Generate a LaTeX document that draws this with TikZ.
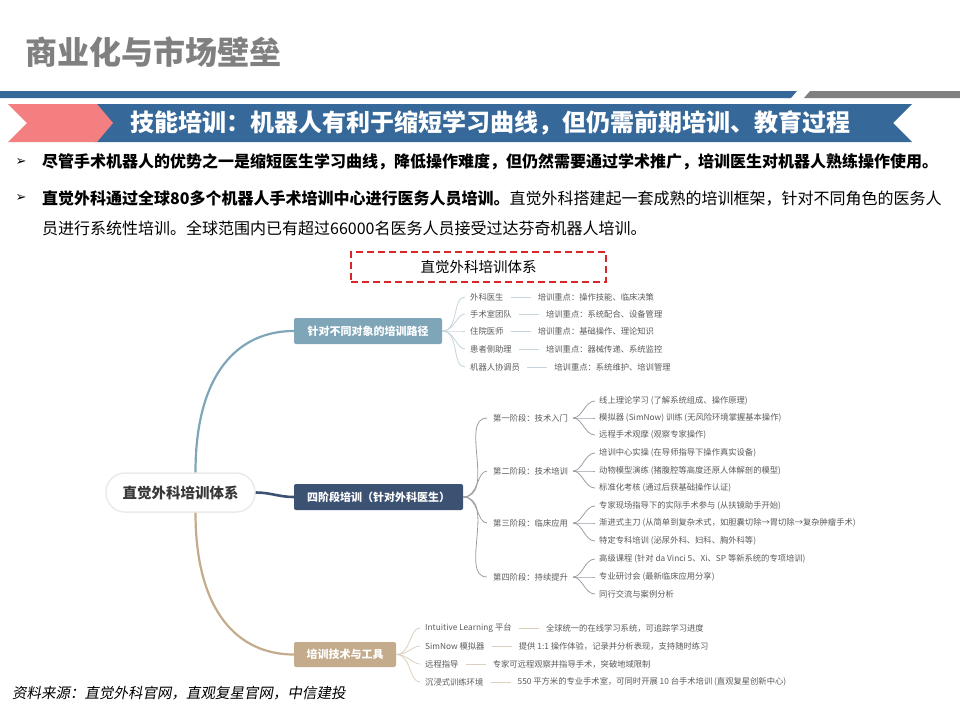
\documentclass[tikz,border=0pt]{standalone}
\usepackage{fontspec}
\setmainfont{Noto Sans CJK SC}
\newfontfamily\symfont{DejaVu Sans}
\newfontfamily\slantfont[FakeSlant=0.18]{Noto Sans CJK SC}
\usetikzlibrary{positioning}

\definecolor{titlegray}{HTML}{808080}
\definecolor{barblue}{HTML}{36699A}
\definecolor{bargray}{HTML}{808080}
\definecolor{chevpink}{HTML}{F47F80}
\definecolor{dashred}{HTML}{D9262B}
\definecolor{pathblue}{HTML}{7EA6B8}
\definecolor{stagenavy}{HTML}{3C5272}
\definecolor{tooltan}{HTML}{C3AB8C}
\definecolor{leafgray}{HTML}{5A5A5A}
\definecolor{routeline}{HTML}{C5D5DC}
\definecolor{stageline}{HTML}{9A9EA4}
\definecolor{toolline}{HTML}{DCCFBE}

\begin{document}
\begin{tikzpicture}[x=1pt, y=-1pt,
leaf/.style={anchor=west, inner sep=1pt, text=leafgray, font=\fontsize{8.3}{10}\selectfont},
branch/.style={rounded corners=2pt, text=white, minimum height=26pt, inner sep=0pt, font=\bfseries\fontsize{11}{13}\selectfont},
fan/.style={draw=#1, line width=0.8pt},
pairline/.style={draw=#1, line width=0.8pt, shorten <=6pt, shorten >=6pt},
marker/.style={inner sep=0, font=\symfont\fontsize{13}{14}\selectfont}]
    \useasboundingbox (0,0) rectangle (960,720);

    % header
    \node[anchor=west, inner sep=0, text=titlegray, font=\bfseries\fontsize{32}{36}\selectfont] (title) at (25,52) {商业化与市场壁垒};
    \fill[barblue] (0,91) -- (797,91) -- (791,98) -- (0,98) -- cycle;
    \fill[bargray] (810,91) -- (960,91) -- (960,98) -- (804,98) -- cycle;
    \fill[barblue] (95,104) -- (912,104) -- (893,123) -- (912,142) -- (95,142) -- cycle;
    \fill[chevpink] (8,104) -- (97,104) -- (113,123) -- (97,142) -- (8,142) -- (27,123) -- cycle;
    \node[inner sep=0, text=white, font=\bfseries\fontsize{24}{28}\selectfont] (banner) at (490,123) {技能培训：机器人有利于缩短学习曲线，但仍需前期培训、教育过程};

    % bullets
    \node[marker] (mk1) at (21,162) {➢};
    \node[anchor=west, inner sep=0, font=\bfseries\fontsize{16}{20}\selectfont] (pt1) at (42,162) {尽管手术机器人的优势之一是缩短医生学习曲线，降低操作难度，但仍然需要通过学术推广，培训医生对机器人熟练操作使用。};
    \node[marker] (mk2) at (21,198) {➢};
    \node[anchor=west, inner sep=0, font=\fontsize{16}{20}\selectfont] (pt2) at (42,198) {\textbf{直觉外科通过全球80多个机器人手术培训中心进行医务人员培训。}直觉外科搭建起一套成熟的培训框架，针对不同角色的医务人};
    \node[anchor=west, inner sep=0, font=\fontsize{16}{20}\selectfont] (pt2b) at (42,228) {员进行系统性培训。全球范围内已有超过66000名医务人员接受过达芬奇机器人培训。};

    \node[draw=dashred, line width=2pt, dash pattern=on 7pt off 4pt, minimum width=255pt, minimum height=30pt, font=\fontsize{14.5}{17}\selectfont] (frame) at (478.5,267) {直觉外科培训体系};

    % mind map
    \node[draw=black!8, fill=white, line width=1.5pt, rounded corners=19pt, minimum width=149pt, minimum height=39pt, text=black!78, font=\bfseries\fontsize{14.5}{17}\selectfont] (root) at (180.5,492.5) {直觉外科培训体系};
    \node[branch, fill=pathblue, minimum width=148pt] (route) at (368,331) {针对不同对象的培训路径};
    \node[branch, fill=stagenavy, minimum width=169pt] (stages) at (378.5,497) {四阶段培训（针对外科医生）};
    \node[branch, fill=tooltan, minimum width=102pt, minimum height=25pt] (tools) at (345,654.5) {培训技术与工具};

    \draw[pathblue, line width=2.2pt] ([xshift=15pt]root.north) .. controls +(0,-100) and +(-55,0) .. (route.west);
    \draw[stagenavy, line width=2.6pt] (root.east) to[out=0, in=180] (stages.west);
    \draw[tooltan, line width=2.2pt] ([xshift=15pt]root.south) .. controls +(0,100) and +(-55,0) .. (tools.west);

    % targets
    \node[leaf] (r1) at (469,297) {外科医生};
    \node[leaf, right=32pt of r1] (r1x) {培训重点：操作技能、临床决策};
    \node[leaf] (r2) at (469,314) {手术室团队};
    \node[leaf, right=32pt of r2] (r2x) {培训重点：系统配合、设备管理};
    \node[leaf] (r3) at (469,331) {住院医师};
    \node[leaf, right=32pt of r3] (r3x) {培训重点：基础操作、理论知识};
    \node[leaf] (r4) at (469,349) {患者侧助理};
    \node[leaf, right=32pt of r4] (r4x) {培训重点：器械传递、系统监控};
    \node[leaf] (r5) at (469,367) {机器人协调员};
    \node[leaf, right=32pt of r5] (r5x) {培训重点：系统维护、培训管理};
    \path[fan=routeline, shorten >=4pt]
        (route.east) edge[out=0, in=180] (r1)
                     edge[out=0, in=180] (r2)
                     edge[out=0, in=180] (r3)
                     edge[out=0, in=180] (r4)
                     edge[out=0, in=180] (r5);
    \path[pairline=routeline]
        (r1) edge (r1x) (r2) edge (r2x) (r3) edge (r3x) (r4) edge (r4x) (r5) edge (r5x);

    % four stages
    \node[leaf] (s1) at (492,418) {第一阶段：技术入门};
    \node[leaf] (s2) at (492,471) {第二阶段：技术培训};
    \node[leaf] (s3) at (492,523) {第三阶段：临床应用};
    \node[leaf] (s4) at (492,577) {第四阶段：持续提升};
    \path[fan=stageline, shorten >=5pt]
        (stages.east) edge[out=0, in=180] (s1)
                      edge[out=0, in=180] (s2)
                      edge[out=0, in=180] (s3)
                      edge[out=0, in=180] (s4);

    \node[leaf] (s1a) at (598,401) {线上理论学习 (了解系统组成、操作原理)};
    \node[leaf] (s1b) at (598,418) {模拟器 (SimNow) 训练 (无风险环境掌握基本操作)};
    \node[leaf] (s1c) at (598,435) {远程手术观摩 (观察专家操作)};
    \node[leaf] (s2a) at (598,453) {培训中心实操 (在导师指导下操作真实设备)};
    \node[leaf] (s2b) at (598,471) {动物模型演练 (猪腹腔等高度还原人体解剖的模型)};
    \node[leaf] (s2c) at (598,488) {标准化考核 (通过后获基础操作认证)};
    \node[leaf] (s3a) at (598,506) {专家现场指导下的实际手术参与 (从扶镜助手开始)};
    \node[leaf] (s3b) at (598,523) {渐进式主刀 (从简单到复杂术式，如胆囊切除→胃切除→复杂肿瘤手术)};
    \node[leaf] (s3c) at (598,541) {特定专科培训 (泌尿外科、妇科、胸外科等)};
    \node[leaf] (s4a) at (598,559) {高级课程 (针对 da Vinci 5、Xi、SP 等新系统的专项培训)};
    \node[leaf] (s4b) at (598,577) {专业研讨会 (最新临床应用分享)};
    \node[leaf] (s4c) at (598,594) {同行交流与案例分析};
    \path[fan=stageline, shorten <=4pt, shorten >=3pt]
        (s1.east) edge[out=0, in=180] (s1a) edge[out=0, in=180] (s1b) edge[out=0, in=180] (s1c)
        (s2.east) edge[out=0, in=180] (s2a) edge[out=0, in=180] (s2b) edge[out=0, in=180] (s2c)
        (s3.east) edge[out=0, in=180] (s3a) edge[out=0, in=180] (s3b) edge[out=0, in=180] (s3c)
        (s4.east) edge[out=0, in=180] (s4a) edge[out=0, in=180] (s4b) edge[out=0, in=180] (s4c);

    % tools
    \node[leaf] (t1) at (424,628) {Intuitive Learning 平台};
    \node[leaf, right=32pt of t1] (t1x) {全球统一的在线学习系统，可追踪学习进度};
    \node[leaf] (t2) at (424,646) {SimNow 模拟器};
    \node[leaf, right=32pt of t2] (t2x) {提供 1:1 操作体验，记录并分析表现，支持随时练习};
    \node[leaf] (t3) at (424,664) {远程指导};
    \node[leaf, right=32pt of t3] (t3x) {专家可远程观察并指导手术，突破地域限制};
    \node[leaf] (t4) at (424,682) {沉浸式训练环境};
    \node[leaf, right=32pt of t4] (t4x) {550 平方米的专业手术室，可同时开展 10 台手术培训 (直观复星创新中心)};
    \path[fan=toolline, shorten >=4pt]
        (tools.east) edge[out=0, in=180] (t1)
                     edge[out=0, in=180] (t2)
                     edge[out=0, in=180] (t3)
                     edge[out=0, in=180] (t4);
    \path[pairline=toolline]
        (t1) edge (t1x) (t2) edge (t2x) (t3) edge (t3x) (t4) edge (t4x);

    \node[anchor=west, inner sep=0, font=\slantfont\fontsize{14.5}{17}\selectfont] (source) at (12,693) {资料来源：直觉外科官网，直观复星官网，中信建投};
\end{tikzpicture}
\end{document}
